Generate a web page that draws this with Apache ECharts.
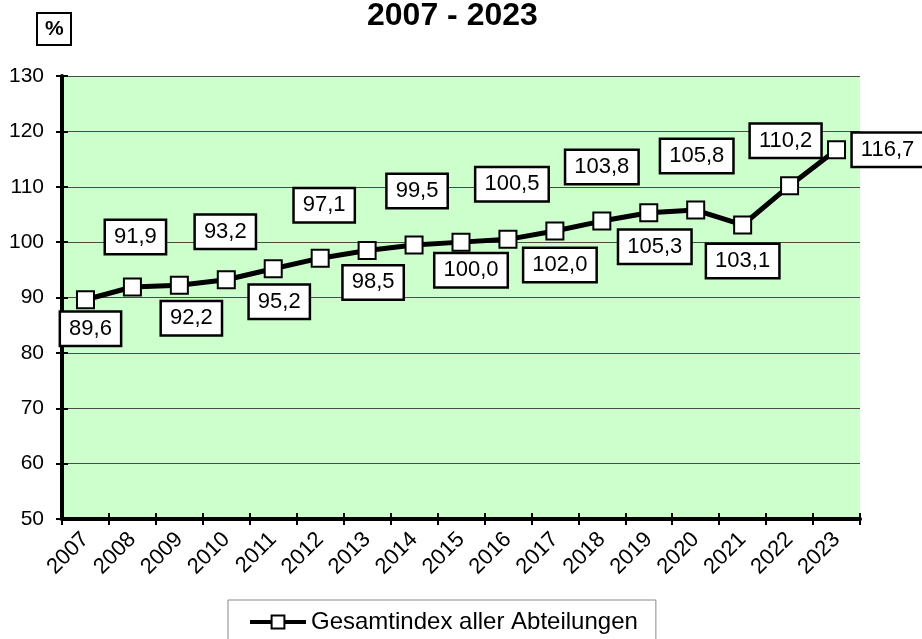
<!DOCTYPE html>
<html>
<head>
<meta charset="utf-8">
<script src="https://cdn.jsdelivr.net/npm/echarts@6/dist/echarts.min.js"></script>
<style>
  html, body { margin: 0; padding: 0; background: #fff; }
  #chart { width: 922px; height: 639px; }
</style>
</head>
<body>
<div id="chart"></div>
<script>
// Jahre und Indexwerte
const years = ['2007','2008','2009','2010','2011','2012','2013','2014','2015','2016','2017','2018','2019','2020','2021','2022','2023'];
const indexValues = [89.6, 91.9, 92.2, 93.2, 95.2, 97.1, 98.5, 99.5, 100.0, 100.5, 102.0, 103.8, 105.3, 105.8, 103.1, 110.2, 116.7];
const yTicks = { min: 50, max: 130, step: 10 };
const seriesName = 'Gesamtindex aller Abteilungen';

// Lage der Wertebeschriftungen relativ zum Punkt (x, y in Pixel)
const labelShift = [
  [5, 29], [3, -50], [12, 33], [-1, -48], [6, 33], [4, -53], [6, 32], [3, -54],
  [10, 28], [4, -55], [5, 34], [0, -54], [6, 34], [1, -54], [0, 36], [-4, -45], [51, 0]
];

const FONT = 'Arial, "Liberation Sans", sans-serif';
const fmt = v => v.toFixed(1).replace('.', ',');

const chart = echarts.init(document.getElementById('chart'), null, { renderer: 'canvas' });

const option = {
  animation: false,
  backgroundColor: '#ffffff',
  title: [
    {
      text: years[0] + ' - ' + years[years.length - 1],
      left: 367, top: 0, padding: 0,
      textStyle: { fontFamily: FONT, fontSize: 32, fontWeight: 'bold', color: '#000' }
    },
    {
      text: '%',
      left: 37, top: 13, padding: [5, 8, 5, 8],
      borderColor: '#000', borderWidth: 2, backgroundColor: '#fff',
      textStyle: { fontFamily: FONT, fontSize: 21, fontWeight: 'bold', color: '#000', lineHeight: 22 }
    }
  ],
  grid: {
    left: 62, right: 62, top: 76, bottom: 120,
    show: true, backgroundColor: '#ccffcc', borderWidth: 0
  },
  legend: {
    left: 228, top: 600,
    padding: [10, 18, 20, 20],
    backgroundColor: '#fff', borderColor: '#888', borderWidth: 1, borderRadius: 0,
    itemWidth: 56, itemHeight: 16,
    itemStyle: { color: '#fff', borderColor: '#000', borderWidth: 2 },
    lineStyle: { color: '#000', width: 4 },
    textStyle: { fontFamily: FONT, fontSize: 24, color: '#000' },
    data: [{ name: seriesName }]
  },
  xAxis: [
    {
      type: 'category', data: years, boundaryGap: true, position: 'bottom',
      axisLine: { show: true, onZero: false, lineStyle: { color: '#000', width: 4 } },
      axisTick: { show: true, length: 6, lineStyle: { color: '#000', width: 2 } },
      axisLabel: { rotate: 45, margin: 17, fontFamily: FONT, fontSize: 22, color: '#000', interval: 0 },
      splitLine: { show: false }
    },
    {
      type: 'category', data: years, boundaryGap: true, position: 'bottom',
      axisLine: { show: false },
      axisTick: { show: true, inside: true, length: 6, lineStyle: { color: '#000', width: 2 } },
      axisLabel: { show: false },
      splitLine: { show: false }
    }
  ],
  yAxis: [
    {
      type: 'value', min: yTicks.min, max: yTicks.max, interval: yTicks.step, position: 'left',
      axisLine: { show: true, lineStyle: { color: '#000', width: 4 } },
      axisTick: { show: true, length: 6, lineStyle: { color: '#000', width: 2 } },
      axisLabel: { margin: 18, fontFamily: FONT, fontSize: 21, color: '#000' },
      splitLine: { show: true, lineStyle: { color: '#4a4a4a', width: 1 } }
    },
    {
      type: 'value', min: yTicks.min, max: yTicks.max, interval: yTicks.step, position: 'left',
      axisLine: { show: false },
      axisTick: { show: true, inside: true, length: 6, lineStyle: { color: '#000', width: 2 } },
      axisLabel: { show: false },
      splitLine: { show: false }
    }
  ],
  series: [
    {
      name: seriesName,
      type: 'line',
      xAxisIndex: 0, yAxisIndex: 0,
      data: indexValues,
      symbol: 'rect',
      symbolSize: 17,
      showAllSymbol: true,
      lineStyle: { color: '#000', width: 5 },
      itemStyle: { color: '#fff', borderColor: '#000', borderWidth: 2 },
      label: {
        show: true,
        position: 'inside',
        formatter: p => fmt(p.value),
        fontFamily: FONT, fontSize: 22, color: '#000',
        lineHeight: 23,
        backgroundColor: '#fff', borderColor: '#000', borderWidth: 2.5,
        padding: [5, 8, 4, 8]
      },
      labelLayout: p => ({
        dx: labelShift[p.dataIndex][0],
        dy: labelShift[p.dataIndex][1],
        hideOverlap: false
      }),
      z: 5
    }
  ]
};

chart.setOption(option);
</script>
</body>
</html>
